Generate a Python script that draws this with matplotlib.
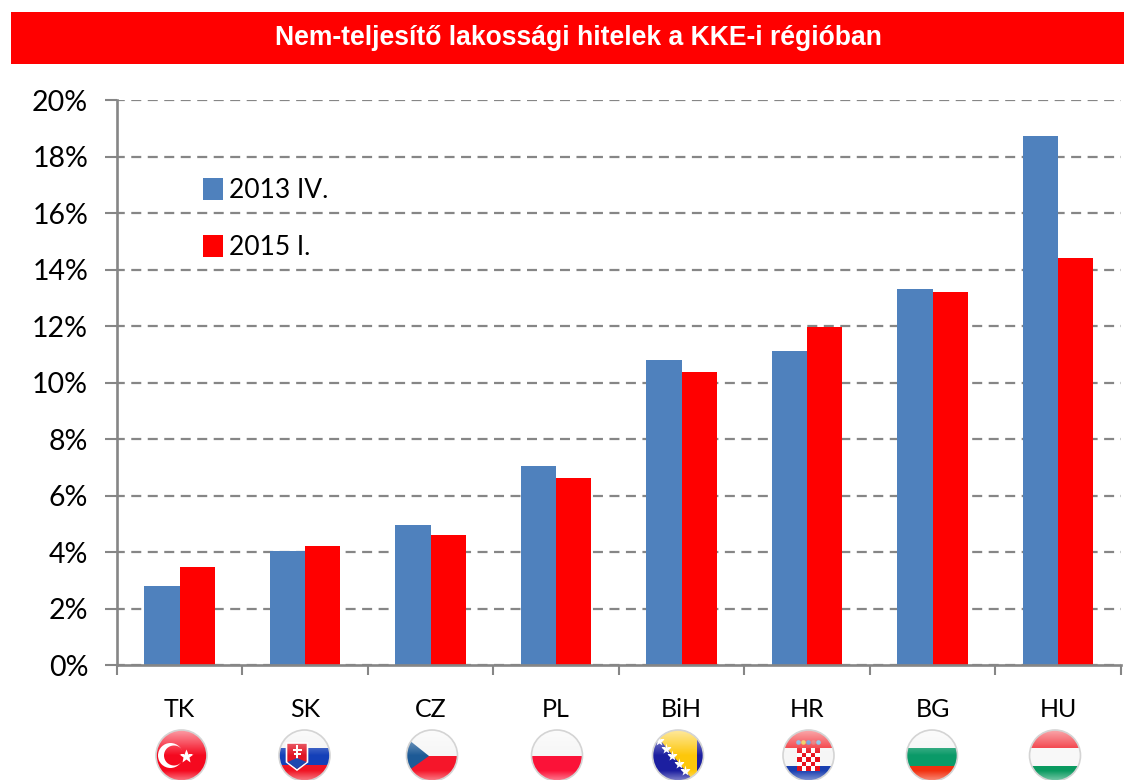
import numpy as np
import matplotlib
matplotlib.use('Agg')
import matplotlib.pyplot as plt
from matplotlib.patches import Circle, Polygon, Rectangle
from matplotlib.ticker import FixedLocator, NullFormatter

# adatok
title = 'Nem-teljesítő lakossági hitelek a KKE-i régióban'
countries = ['TK', 'SK', 'CZ', 'PL', 'BiH', 'HR', 'BG', 'HU']
npl_2013 = [2.81, 4.06, 4.97, 7.05, 10.80, 11.14, 13.32, 18.73]
npl_2015 = [3.47, 4.21, 4.63, 6.63, 10.38, 11.97, 13.23, 14.40]
label_2013 = '2013 IV.'
label_2015 = '2015 I.'
y_ticks = [0, 2, 4, 6, 8, 10, 12, 14, 16, 18, 20]

W, H = 1124, 780
BLUE = '#4f81bd'
RED = '#ff0000'
GRAY = '#868686'
plt.rcParams['font.family'] = ['Lato', 'DejaVu Sans']

fig = plt.figure(figsize=(W / 100, H / 100), dpi=100, facecolor='white')

# teljes képet lefedő tengely pixel koordinátákkal (fejléc, zászlók)
px = fig.add_axes([0, 0, 1, 1], zorder=3)
px.set_xlim(0, W)
px.set_ylim(H, 0)
px.axis('off')

px.add_patch(Rectangle((11, 12), W - 11, 52, fc=RED, ec='none'))
px.text(578, 38, title, color='white', ha='center', va='center', fontsize=19.1,
        fontweight='bold', family='Liberation Sans')

# diagram
ax = fig.add_axes([116.8 / W, (H - 665.3) / H, 1004 / W, 565 / H], zorder=1)
x = np.arange(len(countries))
bar_w = 0.282
ax.bar(x - bar_w / 2, npl_2013, bar_w, color=BLUE, label=label_2013, zorder=2)
ax.bar(x + bar_w / 2, npl_2015, bar_w, color=RED, label=label_2015, zorder=2)

ax.set_xlim(-0.5, len(countries) - 0.5)
ax.set_ylim(0, 20)
ax.set_yticks(y_ticks)
ax.set_yticklabels([f'{v}%' for v in y_ticks], fontsize=20.5)
ax.tick_params(axis='y', length=8.6, width=1.5, color=GRAY, pad=12)

# x tengely: osztások a kategóriák határán, feliratok középen
ax.xaxis.set_major_locator(FixedLocator(np.arange(len(countries) + 1) - 0.5))
ax.xaxis.set_major_formatter(NullFormatter())
ax.set_xticks(x, minor=True)
ax.set_xticklabels(countries, minor=True, fontsize=18)
ax.tick_params(axis='x', which='major', length=7, width=1.5, color=GRAY)
ax.tick_params(axis='x', which='minor', length=0, pad=23.5)

ax.set_axisbelow(True)
ax.yaxis.grid(True, color=GRAY, lw=1.6, linestyle=(1.0, (4.5, 2.92)))
ax.xaxis.grid(False)
for s in ['top', 'right']:
    ax.spines[s].set_visible(False)
for s in ['left', 'bottom']:
    ax.spines[s].set_color(GRAY)
    ax.spines[s].set_linewidth(1.9)

ax.legend(loc='upper left', bbox_to_anchor=((203 - 116.8) / 1004, (665.3 - 178) / 565),
          frameon=False, fontsize=19, borderpad=0, borderaxespad=0,
          handlelength=0.75, handleheight=0.9, handletextpad=0.22, labelspacing=1.22)


# zászlók
R = 25.5
CY = 755.5
flag_x = [181.5, 304.5, 432, 557, 678, 808.5, 932, 1055]


def stripes(cx, colors, cuts):
    tops = [CY - R] + cuts
    bots = cuts + [CY + R]
    out = []
    for c, t, b in zip(colors, tops, bots):
        out.append(Rectangle((cx - R, t), 2 * R, b - t, fc=c, ec='none'))
    return out


def flag_parts(code, cx):
    if code == 'TK':
        return [Rectangle((cx - R, CY - R), 2 * R, 2 * R, fc='#f5091f', ec='none'),
                Circle((cx - 11, CY), 12.5, fc='white', ec='none'),
                Circle((cx - 7.5, CY), 10, fc='#f5091f', ec='none')]
    if code == 'SK':
        return stripes(cx, ['#f4f4f4', '#1440b8', '#f01525'], [747.7, 765]) + [
            Polygon([(cx - 18, 743), (cx + 3, 743), (cx + 3, 762), (cx - 7.5, 770), (cx - 18, 762)],
                    fc='#e01525', ec='white', lw=1.2),
            Rectangle((cx - 8.5, 745), 2, 14, fc='white', ec='none'),
            Rectangle((cx - 12, 749), 9, 1.8, fc='white', ec='none'),
            Rectangle((cx - 11, 753), 7, 1.8, fc='white', ec='none'),
            Polygon([(cx - 17, 762), (cx - 7.5, 758), (cx + 2, 762), (cx - 7.5, 769)], fc='#1f48b0', ec='none')]
    if code == 'CZ':
        return stripes(cx, ['#f6f6f6', '#f5162a'], [756]) + [
            Polygon([(cx - R, 738), (cx - 3, 756), (cx - R, 772)], fc='#1d5a96', ec='none')]
    if code == 'PL':
        return stripes(cx, ['#f6f6f6', '#fb1238'], [756])
    if code == 'BiH':
        return [Rectangle((cx - R, CY - R), 2 * R, 2 * R, fc='#1c1fa0', ec='none'),
                Polygon([(cx - 26, 730), (cx + 19, 730), (cx + 19, 785)], fc='#fdc70a', ec='none')]
    if code == 'HR':
        parts = stripes(cx, ['#f2252c', '#f6f6f6', '#1a3fb0'], [747.7, 765.7])
        sq = 4.6
        for i in range(5):
            for j in range(5):
                c = '#e8101c' if (i + j) % 2 == 0 else 'white'
                parts.append(Rectangle((cx - 11.5 + i * sq, 748 + j * sq), sq, sq, fc=c, ec='none'))
        for k, c in enumerate(['#5aa5e0', '#e8c030', '#4080d0', '#e05050', '#60b0e0']):
            parts.append(Circle((cx - 10 + k * 5, 742.5), 2.3, fc=c, ec='none'))
        return parts
    if code == 'BG':
        return stripes(cx, ['#f6f6f6', '#0a9a68', '#f2300f'], [747.7, 765.7])
    return stripes(cx, ['#f1222c', '#f8f8f8', '#0a9a60'], [747.7, 765.7])


yy = np.linspace(1, 0, 64).reshape(-1, 1)
gloss = np.ones((64, 1, 4))
gloss[..., 3] = np.clip(0.6 * (yy - 0.5) * 2, 0, 1) + np.clip(0.45 * (0.2 - yy) * 5, 0, 1)

for code, cx in zip(countries, flag_x):
    clip = Circle((cx, CY), R, transform=px.transData, fc='none', ec='none')
    px.add_patch(clip)
    for p in flag_parts(code, cx):
        px.add_patch(p)
        p.set_clip_path(clip)
    if code == 'TK':
        m, = px.plot([cx + 4.5], [CY], marker='*', ms=10, color='white', mec='none', ls='none')
        m.set_clip_path(clip)
    if code == 'BiH':
        for k in range(5):
            m, = px.plot([cx - 19 + k * 6.5], [741 + k * 7.5], marker='*', ms=8, color='white',
                         mec='none', ls='none')
            m.set_clip_path(clip)
    im = px.imshow(gloss, extent=(cx - R, cx + R, CY + R, CY - R), aspect='auto', zorder=4)
    im.set_clip_path(clip)
    px.add_patch(Circle((cx, CY), R, fc='none', ec='#d4d4d4', lw=1.2, zorder=5))

px.set_xlim(0, W)
px.set_ylim(H, 0)

plt.savefig('out.png', dpi=100)
